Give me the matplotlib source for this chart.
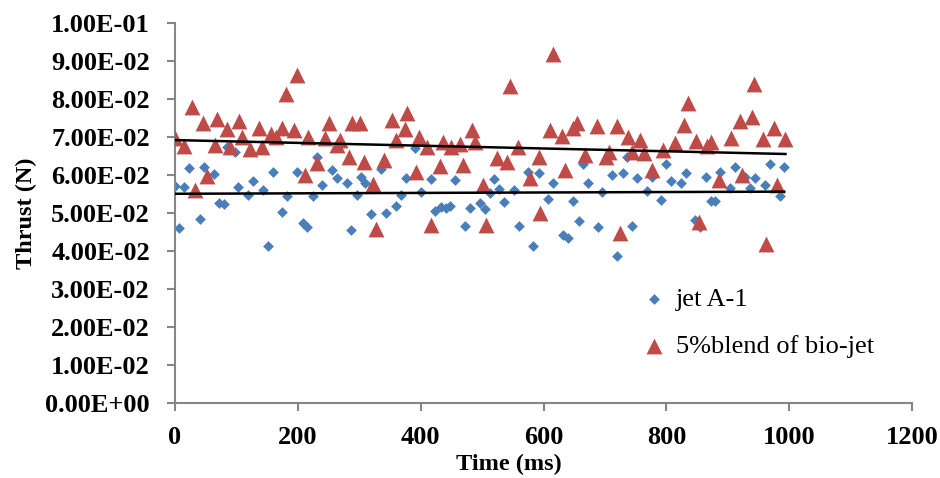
import numpy as np
import matplotlib
matplotlib.use("Agg")
import matplotlib.pyplot as plt

# thrust samples, time in ms, thrust in N
jet_time = [0, 7, 15, 23, 40, 48, 64, 72, 80, 84, 98, 103, 119, 127, 144, 152, 159, 175, 183,
            198, 208, 215, 224, 232, 240, 255, 263, 280, 287, 296, 303, 309, 319, 335, 344, 360, 368, 376, 391,
            400, 417, 424, 433, 441, 448, 456, 472, 480, 497, 505, 513, 520, 528, 536, 552, 560, 575, 583, 593,
            608, 616, 632, 640, 648, 657, 664, 673, 688, 696, 711, 719, 729, 736, 744, 753, 768, 776, 792, 799,
            808, 824, 832, 847, 855, 864, 872, 880, 888, 904, 912, 928, 936, 944, 961, 969, 985, 992]
jet_thrust = [0.0573, 0.0462, 0.0570, 0.0618, 0.0486, 0.0621, 0.0603, 0.0528, 0.0524, 0.0675, 0.0662, 0.0568,
              0.0548, 0.0586, 0.0561, 0.0415, 0.0610, 0.0504, 0.0546,
              0.0610, 0.0474, 0.0465, 0.0546, 0.0649, 0.0574, 0.0614, 0.0592, 0.0581, 0.0456, 0.0548, 0.0596,
              0.0581, 0.0498, 0.0616, 0.0502, 0.0519, 0.0548, 0.0592, 0.0671,
              0.0557, 0.0590, 0.0507, 0.0516, 0.0513, 0.0520, 0.0588, 0.0467, 0.0513, 0.0526, 0.0511, 0.0553,
              0.0589, 0.0563, 0.0531, 0.0561, 0.0467, 0.0610, 0.0414, 0.0607,
              0.0537, 0.0579, 0.0443, 0.0434, 0.0533, 0.0481, 0.0630, 0.0579, 0.0463, 0.0557, 0.0601, 0.0388,
              0.0605, 0.0649, 0.0467, 0.0592, 0.0559, 0.0596, 0.0535, 0.0630,
              0.0586, 0.0579, 0.0605, 0.0482, 0.0465, 0.0596, 0.0533, 0.0533, 0.0610, 0.0566, 0.0623, 0.0596,
              0.0566, 0.0592, 0.0574, 0.0630, 0.0546, 0.0621]

bio_time = [0, 14, 27, 33, 46, 52, 65, 69, 84, 90, 104, 109, 122, 136, 141, 156, 165, 174, 180, 194,
            198, 212, 217, 231, 244, 251, 263, 269, 284, 288, 302, 308, 322, 327, 340, 354, 360, 374, 378, 392,
            397, 411, 417, 431, 437, 449, 464, 469, 483, 488, 502, 507, 524, 540, 545, 559, 578, 592, 594,
            611, 616, 630, 635, 648, 654, 668, 687, 702, 707, 720, 724, 738, 744, 757, 764, 776, 795,
            814, 829, 835, 848, 853, 867, 873, 886, 905, 920, 924, 939, 943, 957, 963, 976, 981, 994]
bio_thrust = [0.0698, 0.0678, 0.0779, 0.0562, 0.0738, 0.0597, 0.0679, 0.0749, 0.0722, 0.0674, 0.0744, 0.0700,
              0.0669, 0.0725, 0.0675, 0.0709, 0.0700, 0.0725, 0.0815, 0.0719,
              0.0864, 0.0601, 0.0702, 0.0632, 0.0697, 0.0737, 0.0680, 0.0693, 0.0649, 0.0738, 0.0737, 0.0636,
              0.0577, 0.0458, 0.0640, 0.0746, 0.0693, 0.0721, 0.0763, 0.0610,
              0.0702, 0.0675, 0.0469, 0.0625, 0.0688, 0.0675, 0.0682, 0.0627, 0.0719, 0.0688, 0.0574, 0.0469,
              0.0645, 0.0636, 0.0835, 0.0674, 0.0592, 0.0649, 0.0502,
              0.0719, 0.0919, 0.0703, 0.0614, 0.0724, 0.0737, 0.0653, 0.0730, 0.0649, 0.0662, 0.0730, 0.0447,
              0.0700, 0.0662, 0.0693, 0.0658, 0.0614, 0.0667,
              0.0684, 0.0732, 0.0789, 0.0691, 0.0476, 0.0677, 0.0688, 0.0588, 0.0697, 0.0744, 0.0601, 0.0753,
              0.0840, 0.0695, 0.0419, 0.0724, 0.0574, 0.0695]

series_names = ["jet A-1", "5%blend of bio-jet"]
y_ticks = [i * 0.01 for i in range(11)]
x_ticks = [0, 200, 400, 600, 800, 1000, 1200]

plt.rcParams['font.family'] = ['Liberation Serif', 'DejaVu Serif']

fig = plt.figure(figsize=(9.4, 4.78), dpi=100)
ax = fig.add_axes([175 / 940, 1 - 403.3 / 478, (912 - 175) / 940, (403.3 - 23.3) / 478])

blue = '#4A7EBB'
red = '#BE4B48'
ax.scatter(jet_time, jet_thrust, marker='D', s=30, color=blue, linewidths=0, label=series_names[0], zorder=2)
ax.scatter(bio_time, bio_thrust, marker='^', s=130, color=red, linewidths=0, label=series_names[1], zorder=3)

# linear trend lines over each series
for t, v in [(jet_time, jet_thrust), (bio_time, bio_thrust)]:
    k, b = np.polyfit(t, v, 1)
    xs = np.array([min(t), max(t)])
    ax.plot(xs, k * xs + b, color='black', lw=1.8, zorder=4)

ax.set_xlim(0, 1200)
ax.set_ylim(0, 0.1)
ax.set_xticks(x_ticks)
ax.set_yticks(y_ticks)
ax.set_xticklabels([str(x) for x in x_ticks], fontsize=19, fontweight='bold')
ax.set_yticklabels([f"{y:.2E}" for y in y_ticks], fontsize=19, fontweight='bold')

for side in ['top', 'right']:
    ax.spines[side].set_visible(False)
for side in ['left', 'bottom']:
    ax.spines[side].set_color('#868686')
    ax.spines[side].set_linewidth(1.5)
ax.tick_params(axis='both', direction='out', length=6, width=1.5, color='#868686')
ax.tick_params(axis='y', pad=12)
ax.tick_params(axis='x', pad=10)

ax.set_xlabel("Time (ms)", fontsize=17.5, fontweight='bold')
ax.xaxis.set_label_coords(0.453, -0.133)
ax.set_ylabel("Thrust (N)", fontsize=17.5, fontweight='bold', labelpad=6)

ax.legend(loc='upper left', bbox_to_anchor=(638 / 940, 1 - 287.5 / 478), bbox_transform=fig.transFigure,
          frameon=False, fontsize=19, labelspacing=0.88, handletextpad=0.24, borderaxespad=0,
          handlelength=1.2, borderpad=0)

fig.savefig("out.png", dpi=100)
